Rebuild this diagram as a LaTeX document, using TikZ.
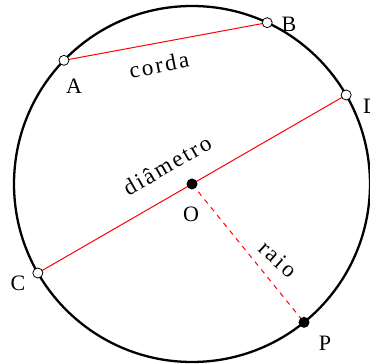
\documentclass[tikz,border=0pt]{standalone}
\usepackage{fontspec}
\setmainfont{Liberation Serif}
\newfontfamily\spaced[LetterSpace=10]{Liberation Serif}
\begin{document}
\begin{tikzpicture}[x=1pt,y=1pt,
  lbl/.style={font=\fontsize{22}{22}\selectfont, inner sep=0pt},
  word/.style={font=\fontsize{23}{23}\spaced, inner sep=0pt},
  hollow/.style={circle, draw=black, fill=white, line width=0.8pt, minimum size=10pt, inner sep=0pt},
  solid/.style={circle, fill=black, minimum size=11pt, inner sep=0pt},
  segm/.style={red, line width=1pt}]
\useasboundingbox (0,0) rectangle (370,364);
\clip (0,0) rectangle (370,364);
\coordinate (c) at (192,180);
\draw[line width=2.3pt] (c) circle (178pt);
\path (c) ++(136:178) coordinate (pA);
\path (c) ++(65:178) coordinate (pB);
\path (c) ++(30:178) coordinate (pD);
\path (c) ++(210:178) coordinate (pC);
\path (c) ++(-51:178) coordinate (pP);
\draw[segm] (pA) -- (pB);
\draw[segm] (pC) -- (pD);
\draw[segm, dash pattern=on 5pt off 5pt] (c) -- (pP);
\node[hollow] (A) at (pA) {};
\node[hollow] (B) at (pB) {};
\node[hollow] (C) at (pC) {};
\node[hollow] (D) at (pD) {};
\node[solid] (O) at (c) {};
\node[solid] (P) at (pP) {};
\node[lbl] (lA) at (74,278) {A};
\node[lbl] (lB) at (289,340) {B};
\node[lbl] (lC) at (18,81) {C};
\node[lbl] (lD) at (371,258) {D};
\node[lbl] (lO) at (191,150) {O};
\node[lbl] (lP) at (325,21) {P};
\node[word, rotate=11] (corda) at (159,299) {corda};
\node[word, rotate=30] (diam) at (167,199) {diâmetro};
\node[word, rotate=-42] (raio) at (278,105) {raio};
\end{tikzpicture}
\end{document}
